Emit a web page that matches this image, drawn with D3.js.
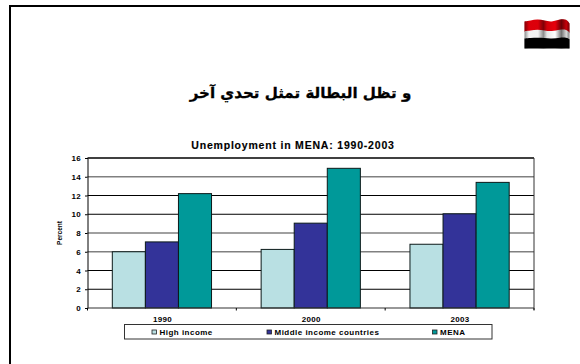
<!DOCTYPE html>
<html>
<head>
<meta charset="utf-8">
<script src="https://cdn.jsdelivr.net/npm/d3@7/dist/d3.min.js"></script>
<style>
html,body{margin:0;padding:0;background:#fff;}
svg{display:block;}
text{font-family:"Liberation Sans",Arial,sans-serif;font-weight:bold;fill:#000;}
</style>
</head>
<body>
<svg id="slide" width="580" height="364"></svg>
<script>
// Unemployment rates by income group
const years = ["1990", "2000", "2003"];
const seriesNames = ["High income", "Middle income countries", "MENA"];
const highIncome = [6.0, 6.25, 6.8];
const middleIncome = [7.05, 9.05, 10.05];
const mena = [12.2, 14.9, 13.4];
const seriesValues = [highIncome, middleIncome, mena];
const seriesColors = ["#b9e0e3", "#333399", "#009999"];
const yTicks = [0, 2, 4, 6, 8, 10, 12, 14, 16];
const greyGridTicks = [14, 8, 6];

const slideTitle = "و تظل البطالة تمثل تحدي آخر";
const chartTitle = "Unemployment in MENA: 1990-2003";
const yAxisTitle = "Percent";

const svg = d3.select("#slide");

// Slide frame: top and left rules only, running off the page edges
svg.append("path")
  .attr("d", "M10,364V6H580")
  .attr("fill", "none")
  .attr("stroke", "#000")
  .attr("stroke-width", 2);

// Waving flag in the top right corner
const defs = svg.append("defs");
const shade = defs.append("linearGradient").attr("id", "flagShade");
[[0, 0.45], [0.1, 0.05], [0.3, 0.05], [0.42, 0.45], [0.5, 0.1], [0.68, 0], [0.82, 0.55], [0.93, 0.15], [1, 0.5]]
  .forEach(([o, a]) => shade.append("stop")
    .attr("offset", o).attr("stop-color", "#000").attr("stop-opacity", a));

const flagWave = [[0, 2.5], [6, 1.5], [13, 0], [20, 1.5], [27, 3.2], [36, 0], [42, 0], [45, 4.5]];
const flagX = d3.scaleLinear().domain([0, 45]).range([524.5, 569.5]);
const flagY = d3.scaleLinear().domain([0, 30]).range([19, 49]);
const waveLine = d3.line().x(d => flagX(d[0])).y(d => flagY(d[1])).curve(d3.curveBasis);
const bandPath = (offTop, offBottom) => {
  const upper = flagWave.map(([x, y]) => [x, y * (1 - offTop / 30) + offTop]);
  const lower = flagWave.map(([x, y]) => [x, y * (1 - offBottom / 30) + offBottom]).reverse();
  return waveLine(upper) + "L" + waveLine(lower).slice(1) + "Z";
};
const flagBands = [[0, 11.5, "#e8000b"], [10.5, 19.5, "#ffffff"], [18.5, 29.5, "#000000"]];
const flag = svg.append("g");
flagBands.forEach(([a, b, c]) => flag.append("path").attr("d", bandPath(a, b)).attr("fill", c));
flag.append("path").attr("d", bandPath(0, 29.5)).attr("fill", "url(#flagShade)");

// Slide heading
svg.append("text")
  .attr("x", 300.5).attr("y", 98)
  .attr("text-anchor", "middle")
  .attr("direction", "rtl")
  .attr("stroke", "#000")
  .attr("stroke-width", 0.3)
  .style("font-family", '"DejaVu Sans",sans-serif')
  .style("font-size", "15.1px")
  .text(slideTitle);

// Chart title
svg.append("text")
  .attr("x", 293).attr("y", 149)
  .attr("text-anchor", "middle")
  .attr("stroke", "#000")
  .attr("stroke-width", 0.15)
  .style("font-size", "10.5px")
  .style("letter-spacing", "0.8px")
  .text(chartTitle);

const plotLeft = 87.5, plotRight = 534, plotTop = 158, plotBottom = 308;

const x = d3.scaleBand().domain(years).range([plotLeft, plotRight])
  .paddingInner(1 / 3).paddingOuter(1 / 6);
const xSeries = d3.scaleBand().domain(d3.range(seriesNames.length)).range([0, x.bandwidth()]);
const y = d3.scaleLinear().domain([0, 16]).range([plotBottom, plotTop]);

// Horizontal gridlines; the alternating weights come from the source's downscaling
svg.append("g").selectAll("line")
  .data(yTicks.filter(t => t > 0))
  .join("line")
  .attr("x1", plotLeft).attr("x2", plotRight)
  .attr("y1", d => y(d)).attr("y2", d => y(d))
  .attr("stroke", d => greyGridTicks.includes(d) ? "#808080" : "#000")
  .attr("stroke-width", d => d === 16 ? 1.6 : (greyGridTicks.includes(d) ? 1.4 : 1));

// Bars
svg.append("g").selectAll("g")
  .data(seriesValues)
  .join("g")
  .attr("fill", (d, i) => seriesColors[i])
  .each(function (values, s) {
    d3.select(this).selectAll("rect")
      .data(values)
      .join("rect")
      .attr("x", (d, i) => x(years[i]) + xSeries(s))
      .attr("y", d => y(d))
      .attr("width", xSeries.bandwidth())
      .attr("height", d => y(0) - y(d))
      .attr("stroke", "#0c1a1a")
      .attr("stroke-width", 1);
  });

// Value axis
const yAxis = svg.append("g")
  .attr("transform", `translate(${plotLeft},0)`)
  .call(d3.axisLeft(y).tickValues(yTicks).tickSize(2.5).tickPadding(3));
yAxis.select(".domain").attr("stroke", "#000").attr("stroke-width", 1);
yAxis.selectAll("line").attr("stroke", "#000");
yAxis.selectAll("text")
  .style("font-size", "8px")
  .style("letter-spacing", "0.3px")
  .style("font-family", '"Liberation Sans",Arial,sans-serif')
  .style("font-weight", "bold")
  .attr("dx", "-1");

// Category axis with ticks on the group boundaries
const xEdges = d3.scaleLinear().domain([0, years.length]).range([plotLeft, plotRight]);
const baseline = svg.append("g");
baseline.append("line")
  .attr("x1", plotLeft).attr("x2", plotRight)
  .attr("y1", plotBottom).attr("y2", plotBottom)
  .attr("stroke", "#333").attr("stroke-width", 1.2);
baseline.selectAll("line.edge")
  .data(d3.range(years.length + 1))
  .join("line")
  .attr("class", "edge")
  .attr("x1", d => xEdges(d)).attr("x2", d => xEdges(d))
  .attr("y1", plotBottom).attr("y2", plotBottom + 2.5)
  .attr("stroke", "#000");
svg.append("g").selectAll("text")
  .data(years)
  .join("text")
  .attr("x", d => x(d) + x.bandwidth() / 2 + 0.5)
  .attr("y", 322)
  .attr("text-anchor", "middle")
  .style("font-size", "8px")
  .style("letter-spacing", "0.3px")
  .text(d => d);

// Right edge of the plot
svg.append("line")
  .attr("x1", plotRight).attr("x2", plotRight)
  .attr("y1", plotTop).attr("y2", plotBottom + 2)
  .attr("stroke", "#333").attr("stroke-width", 1);

// Value axis title
svg.append("text")
  .attr("transform", "translate(61.5,233) rotate(-90)")
  .attr("text-anchor", "middle")
  .style("font-size", "6.5px")
  .text(yAxisTitle);

// Legend
svg.append("rect")
  .attr("x", 124.5).attr("y", 324.5)
  .attr("width", 367.5).attr("height", 14.5)
  .attr("fill", "#fff")
  .attr("stroke", "#333").attr("stroke-width", 1);
const legendSwatchX = [152, 267, 432.5];
const legend = svg.append("g").selectAll("g")
  .data(seriesNames)
  .join("g")
  .attr("transform", (d, i) => `translate(${legendSwatchX[i]},0)`);
legend.append("rect")
  .attr("y", 330).attr("width", 4.5).attr("height", 4)
  .attr("fill", (d, i) => seriesColors[i])
  .attr("stroke", "#222").attr("stroke-width", 0.8);
legend.append("text")
  .attr("x", 7.5).attr("y", 335)
  .style("font-size", "8px")
  .style("letter-spacing", "0.48px")
  .text(d => d);
</script>
</body>
</html>
